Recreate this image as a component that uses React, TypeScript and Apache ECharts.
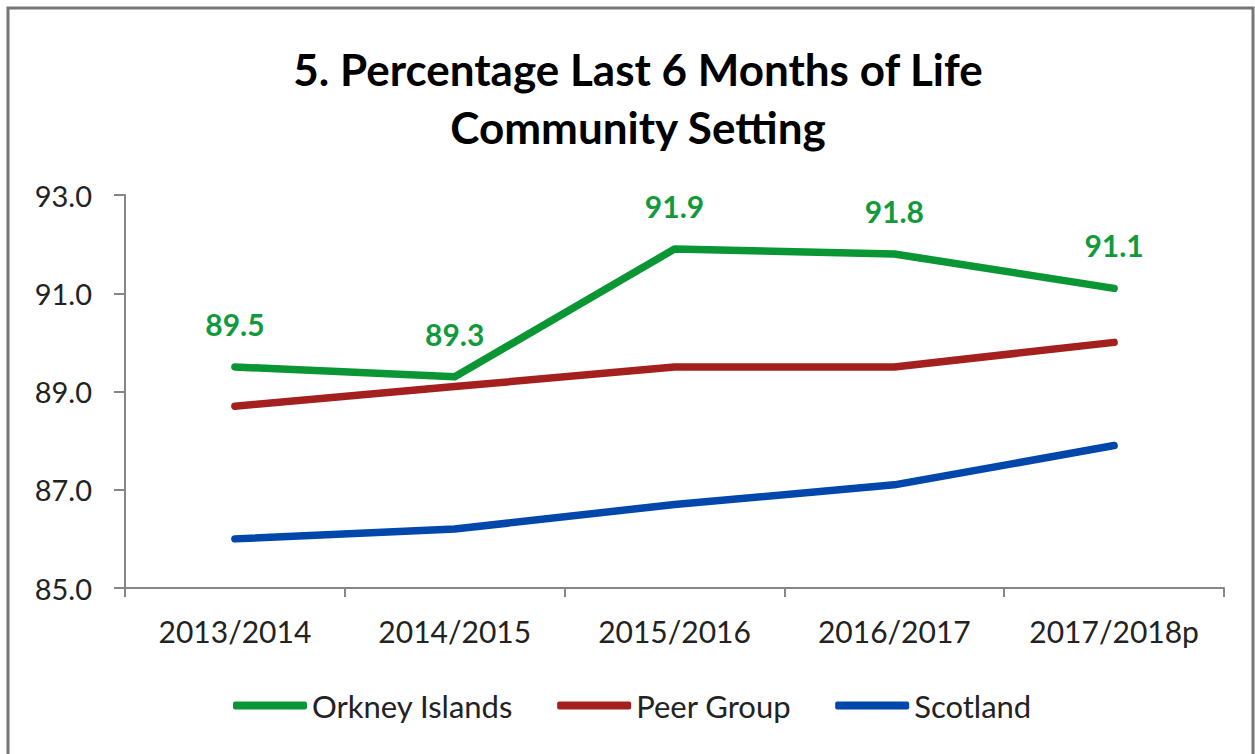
import React, { useEffect, useRef } from "react";
import * as echarts from "echarts";

const categories = ["2013/2014", "2014/2015", "2015/2016", "2016/2017", "2017/2018p"];
const orkney = [89.5, 89.3, 91.9, 91.8, 91.1];
const peerGroup = [88.7, 89.1, 89.5, 89.5, 90.0];
const scotland = [86.0, 86.2, 86.7, 87.1, 87.9];
const yTicks = { min: 85, max: 93, interval: 2 };

const GREEN = "#0a9634";
const RED = "#a3201f";
const BLUE = "#0047ab";
const FONT = "Lato, 'Open Sans', sans-serif";

export default function App() {
  const ref = useRef<HTMLDivElement>(null);
  useEffect(() => {
    if (!ref.current) return;
    const chart = echarts.init(ref.current, null, { renderer: "svg" });
    const lineStyle = (c: string) => ({ color: c, width: 7.5, cap: "round", join: "round" });
    chart.setOption({
      animation: false,
      backgroundColor: "#ffffff",
      title: {
        text: "5. Percentage Last 6 Months of Life\nCommunity Setting",
        left: 633,
        textAlign: "center",
        top: 35,
        textStyle: {
          fontFamily: FONT,
          fontSize: 44,
          fontWeight: "bold",
          color: "#000000",
          lineHeight: 58,
        },
      },
      graphic: [
        {
          type: "rect",
          shape: { x: 8, y: 8, width: 1245, height: 800 },
          style: { fill: "none", stroke: "#767676", lineWidth: 3 },
          silent: true,
        },
      ],
      legend: {
        left: 228,
        top: 685,
        itemWidth: 74,
        itemHeight: 8,
        itemGap: 44,
        icon: "roundRect",
        textStyle: { fontFamily: FONT, fontSize: 31, color: "#222222" },
        data: ["Orkney Islands", "Peer Group", "Scotland"],
      },
      grid: { left: 125, right: 31, top: 195, bottom: 166, containLabel: false },
      xAxis: {
        type: "category",
        data: categories,
        boundaryGap: true,
        axisLine: { show: true, lineStyle: { color: "#868686", width: 2 } },
        axisTick: { show: true, length: 9, interval: 0, lineStyle: { color: "#868686", width: 2 } },
        axisLabel: { fontFamily: FONT, fontSize: 30, color: "#222222", margin: 28, interval: 0 },
        splitLine: { show: false },
      },
      yAxis: {
        type: "value",
        min: yTicks.min,
        max: yTicks.max,
        interval: yTicks.interval,
        axisLine: { show: true, lineStyle: { color: "#868686", width: 2 } },
        axisTick: { show: true, length: 11, lineStyle: { color: "#868686", width: 2 } },
        axisLabel: {
          fontFamily: FONT,
          fontSize: 29,
          color: "#222222",
          margin: 33,
          formatter: (v: number) => v.toFixed(1),
        },
        splitLine: { show: false },
      },
      series: [
        {
          name: "Orkney Islands",
          type: "line",
          data: orkney,
          symbol: "circle",
          symbolSize: 0.1,
          showSymbol: true,
          itemStyle: { color: GREEN },
          lineStyle: lineStyle(GREEN),
          label: {
            show: true,
            position: "top",
            distance: 28,
            fontFamily: FONT,
            fontSize: 30,
            fontWeight: "bold",
            color: "#109a3c",
            formatter: (p: any) => Number(p.value).toFixed(1),
          },
          labelLayout: { hideOverlap: false },
          z: 3,
        },
        {
          name: "Peer Group",
          type: "line",
          data: peerGroup,
          symbol: "none",
          itemStyle: { color: RED },
          lineStyle: lineStyle(RED),
          z: 2,
        },
        {
          name: "Scotland",
          type: "line",
          data: scotland,
          symbol: "none",
          itemStyle: { color: BLUE },
          lineStyle: lineStyle(BLUE),
          z: 1,
        },
      ],
    });
    return () => chart.dispose();
  }, []);
  return (
    <div
      ref={ref}
      style={{ position: "absolute", left: 0, top: 0, width: 1255, height: 754 }}
    />
  );
}
